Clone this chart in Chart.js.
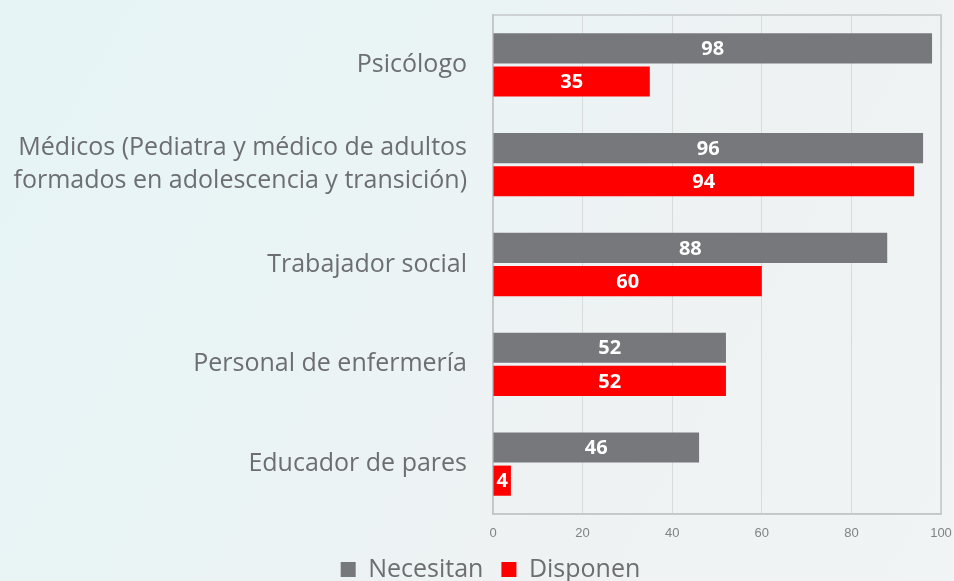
<!DOCTYPE html>
<html>
<head>
<meta charset="utf-8">
<script src="https://cdn.jsdelivr.net/npm/chart.js@4"></script>
<style>
  html, body { margin: 0; padding: 0; }
  body {
    width: 954px; height: 581px; overflow: hidden;
    background: linear-gradient(120deg, #e6f4f5 0%, #eaf4f5 35%, #eef2f3 65%, #f1f4f4 100%);
  }
</style>
</head>
<body>
<canvas id="grafica" width="954" height="581"></canvas>
<script>
// datos
const categorias = [
  "Psicólogo",
  ["Médicos (Pediatra y médico de adultos", "formados en adolescencia y transición)"],
  "Trabajador social",
  "Personal de enfermería",
  "Educador de pares"
];
const necesitan = [98, 96, 88, 52, 46];
const disponen = [35, 94, 60, 52, 4];
const ticksX = [0, 20, 40, 60, 80, 100];

const gris = "#77787b";
const rojo = "#ff0000";
const textoGris = "#6d6e71";
const fuente = '"Open Sans", sans-serif';

// etiquetas de valor dentro de las barras
const etiquetasValor = {
  id: "etiquetasValor",
  afterDatasetsDraw(chart) {
    const ctx = chart.ctx;
    ctx.save();
    ctx.font = "bold 20px " + fuente;
    ctx.fillStyle = "#ffffff";
    ctx.textAlign = "center";
    ctx.textBaseline = "middle";
    chart.data.datasets.forEach((ds, i) => {
      chart.getDatasetMeta(i).data.forEach((bar, j) => {
        ctx.fillText(ds.data[j], (bar.x + bar.base) / 2, bar.y + 1);
      });
    });
    ctx.restore();
  }
};

// marco del area de la grafica
const marco = {
  id: "marco",
  beforeDatasetsDraw(chart) {
    const a = chart.chartArea;
    const ctx = chart.ctx;
    ctx.save();
    ctx.strokeStyle = "#c4c6c8";
    ctx.lineWidth = 1.5;
    ctx.strokeRect(a.left, a.top, a.right - a.left, a.bottom - a.top);
    ctx.restore();
  },
  // la leyenda va un poco a la derecha, como en el original
  afterLayout(chart) {
    chart.legend.left += 20;
    chart.legend.right += 20;
  }
};

new Chart(document.getElementById("grafica"), {
  type: "bar",
  data: {
    labels: categorias,
    datasets: [
      {
        label: "Necesitan",
        data: necesitan,
        backgroundColor: gris,
        categoryPercentage: 0.664,
        barPercentage: 0.91
      },
      {
        label: "Disponen",
        data: disponen,
        backgroundColor: rojo,
        categoryPercentage: 0.664,
        barPercentage: 0.91
      }
    ]
  },
  options: {
    indexAxis: "y",
    responsive: false,
    animation: false,
    layout: { padding: { top: 15, right: 13, left: 0, bottom: -11 } },
    plugins: {
      tooltip: { enabled: false },
      legend: {
        position: "bottom",
        labels: {
          color: textoGris,
          font: { family: fuente, size: 25 },
          boxWidth: 15,
          boxHeight: 15,
          padding: 18
        }
      }
    },
    scales: {
      x: {
        min: 0,
        max: 100,
        afterBuildTicks(scale) {
          scale.ticks = ticksX.map(v => ({ value: v }));
        },
        afterFit(scale) {
          scale.height = 25;
          scale.paddingLeft = 0;
          scale.paddingRight = 0;
        },
        grid: { color: "#d9dadb", drawTicks: false },
        border: { color: "#c4c6c8", width: 1.5 },
        ticks: {
          color: "#808285",
          font: { family: '"Liberation Sans", Arial, sans-serif', size: 13 },
          padding: 12
        }
      },
      y: {
        afterFit(scale) {
          scale.width = 493;
          scale.paddingTop = 0;
          scale.paddingBottom = 0;
        },
        grid: { display: false, drawTicks: false },
        border: { color: "#c4c6c8", width: 1.5 },
        ticks: {
          color: textoGris,
          font: { family: fuente, size: 25, lineHeight: 1.32 },
          padding: 26
        }
      }
    }
  },
  plugins: [marco, etiquetasValor]
});
</script>
</body>
</html>
